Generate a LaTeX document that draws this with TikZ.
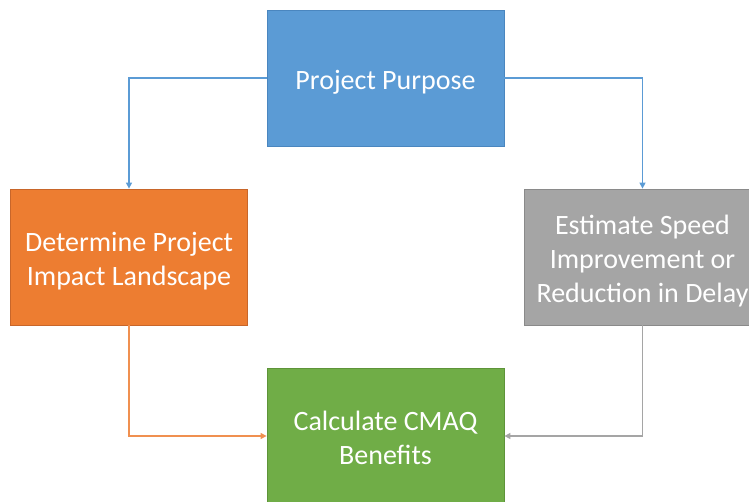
\documentclass[tikz,border=0pt]{standalone}
\usepackage{fontspec}
\setmainfont{Carlito}
\usetikzlibrary{arrows.meta}
\definecolor{bluefill}{HTML}{5B9BD5}
\definecolor{blueline}{HTML}{4A86BF}
\definecolor{orangefill}{HTML}{ED7D31}
\definecolor{orangeline}{HTML}{C8662A}
\definecolor{grayfill}{HTML}{A5A5A5}
\definecolor{grayline}{HTML}{8A8A8A}
\definecolor{greenfill}{HTML}{70AD47}
\definecolor{greenline}{HTML}{5E9439}
% box text is set a little below the box centre
\newcommand{\boxlines}[1]{\begin{tabular}{@{}c@{}}\rule{0pt}{34pt}#1\end{tabular}}
\tikzset{
  stepbox/.style={draw, line width=0.8pt, minimum width=237pt, minimum height=136pt,
    text=white, inner sep=0pt,
    font=\fontsize{28}{34}\selectfont},
  flow/.style={line width=1.3pt, -{Triangle[length=6pt,width=6pt]}}
}
\renewcommand{\arraystretch}{1}
\begin{document}
\begin{tikzpicture}[x=1pt,y=-1pt]
\useasboundingbox (0,0) rectangle (749,502);
\clip (0,0) rectangle (749,502);
\node[stepbox, fill=bluefill, draw=blueline] (purpose) at (385.5,78) {\boxlines{Project Purpose}};
\node[stepbox, fill=orangefill, draw=orangeline] (impact) at (129,257) {\boxlines{Determine Project\\Impact Landscape}};
\node[stepbox, fill=grayfill, draw=grayline] (speed) at (642.5,257) {\boxlines{Estimate Speed\\Improvement or\\Reduction in Delay}};
\node[stepbox, fill=greenfill, draw=greenline] (cmaq) at (385.5,436) {\boxlines{Calculate CMAQ\\Benefits}};
\draw[flow, draw=bluefill] (purpose.west) -| (impact.north);
\draw[flow, draw=bluefill] (purpose.east) -| (speed.north);
\draw[flow, draw=orangefill!85!white] (impact.south) |- (cmaq.west);
\draw[flow, draw=grayfill] (speed.south) |- (cmaq.east);
\end{tikzpicture}
\end{document}
